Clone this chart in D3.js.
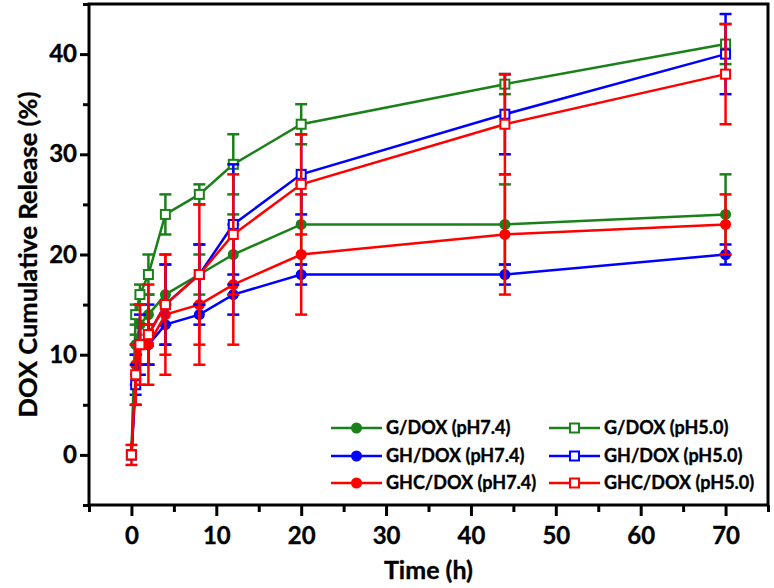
<!DOCTYPE html>
<html><head><meta charset="utf-8">
<script src="https://cdn.jsdelivr.net/npm/d3@7"></script>
<style>body{margin:0;background:#fff}svg{display:block}text{font-family:Lato,"Open Sans",sans-serif;font-weight:700;fill:#000;stroke:#000;stroke-width:0.35px}</style>
</head><body><svg id="c" width="774" height="588"></svg>
<script>
const times = [0, 0.5, 1, 2, 4, 8, 12, 20, 44, 70];
const seriesNames = ["G/DOX (pH7.4)", "GH/DOX (pH7.4)", "GHC/DOX (pH7.4)", "G/DOX (pH5.0)", "GH/DOX (pH5.0)", "GHC/DOX (pH5.0)"];
const g74 = [0, 11, 13, 14, 16, 18, 20, 23, 23, 24];
const g74Err = [0, 1, 2, 2, 3, 2, 4, 4, 4, 4];
const gh74 = [0, 8, 11, 11, 13, 14, 16, 18, 18, 20];
const gh74Err = [0, 2, 2, 2, 2, 1, 2, 1, 1, 1];
const ghc74 = [0, 9, 11, 11, 14, 15, 17, 20, 22, 23];
const ghc74Err = [0, 2, 2, 2, 6, 6, 6, 6, 6, 3];
const g50 = [0, 14, 16, 18, 24, 26, 29, 33, 37, 41];
const g50Err = [0, 1, 1, 2, 2, 1, 3, 2, 1, 2];
const gh50 = [0, 7, 11, 12, 15, 18, 23, 28, 34, 40];
const gh50Err = [0, 2, 3, 3, 4, 3, 6, 4, 4, 4];
const ghc50 = [0, 8, 11, 12, 15, 18, 22, 27, 33, 38];
const ghc50Err = [1, 3, 4, 5, 5, 7, 6, 5, 5, 5];
const xTicks = [0, 10, 20, 30, 40, 50, 60, 70];
const yTicks = [0, 10, 20, 30, 40];

const colors = ["#1a801a", "#0000ff", "#ff0000", "#1a801a", "#0000ff", "#ff0000"];
const shapes = ["circle", "circle", "circle", "square", "square", "square"];
const values = [g74, gh74, ghc74, g50, gh50, ghc50];
const errors = [g74Err, gh74Err, ghc74Err, g50Err, gh50Err, ghc50Err];

const svg = d3.select("#c");
const L = 89, R = 768, T = 4, B = 505;
const x = d3.scaleLinear().domain([-5, 75]).range([L, R]);
const y = d3.scaleLinear().domain([-5, 45]).range([B, T]);

// axes
const xAxis = svg.append("g").attr("transform", `translate(0,${B})`)
  .call(d3.axisBottom(x).tickValues(xTicks).tickSize(11).tickPadding(6).tickFormat(d3.format("d")));
const xMinor = svg.append("g").attr("transform", `translate(0,${B})`)
  .call(d3.axisBottom(x).tickValues(d3.range(-5, 76, 10)).tickSize(7).tickFormat(""));
const yAxis = svg.append("g").attr("transform", `translate(${L},0)`)
  .call(d3.axisLeft(y).tickValues(yTicks).tickSize(9).tickPadding(3).tickFormat(d3.format("d")));
const yMinor = svg.append("g").attr("transform", `translate(${L},0)`)
  .call(d3.axisLeft(y).tickValues(d3.range(-5, 46, 10)).tickSize(6).tickFormat(""));
[xAxis, xMinor, yAxis, yMinor].forEach(a => {
  a.select(".domain").remove();
  a.selectAll("line").attr("stroke", "#000").attr("stroke-width", 3);
  a.selectAll("text").attr("font-size", 24).attr("fill", "#000");
});
xAxis.selectAll("text").attr("dy", "0.9em");

// frame
svg.append("rect").attr("x", L).attr("y", T).attr("width", R - L).attr("height", B - T)
  .attr("fill", "none").attr("stroke", "#000").attr("stroke-width", 3);

const plot = svg.append("g");
const line = d3.line().x((d, i) => x(times[i])).y(d => y(d));

function marker(g, shape, cx, cy, color) {
  if (shape === "circle") {
    g.append("circle").attr("cx", cx).attr("cy", cy).attr("r", 5.5).attr("fill", color);
  } else {
    g.append("rect").attr("x", cx - 4.5).attr("y", cy - 4.5).attr("width", 9).attr("height", 9)
      .attr("fill", "#fff").attr("stroke", color).attr("stroke-width", 2);
  }
}

values.forEach((vals, s) => {
  const c = colors[s];
  const g = plot.append("g");
  g.append("path").datum(vals).attr("d", line).attr("fill", "none").attr("stroke", c).attr("stroke-width", 2.5);
  vals.forEach((v, i) => {
    const e = errors[s][i];
    if (e > 0) {
      const cx = x(times[i]);
      g.append("line").attr("x1", cx).attr("x2", cx).attr("y1", y(v - e)).attr("y2", y(v + e)).attr("stroke", c).attr("stroke-width", 2.5);
      [v - e, v + e].forEach(yy => g.append("line").attr("x1", cx - 6).attr("x2", cx + 6).attr("y1", y(yy)).attr("y2", y(yy)).attr("stroke", c).attr("stroke-width", 2.5));
    }
  });
  vals.forEach((v, i) => marker(g, shapes[s], x(times[i]), y(v), c));
});

// legend
const legX = [331, 549], legY = [428, 456, 483];
seriesNames.forEach((name, s) => {
  const col = s < 3 ? 0 : 1, row = s % 3;
  const lx = legX[col], ly = legY[row];
  const g = svg.append("g");
  g.append("line").attr("x1", lx).attr("x2", lx + 51).attr("y1", ly).attr("y2", ly).attr("stroke", colors[s]).attr("stroke-width", 2.5);
  marker(g, shapes[s], lx + 25.5, ly, colors[s]);
  g.append("text").attr("x", lx + 55).attr("y", ly).attr("dy", "0.35em").attr("font-size", 18).text(name);
});

// axis titles
svg.append("text").attr("x", (L + R) / 2).attr("y", 579).attr("text-anchor", "middle").attr("font-size", 25).text("Time (h)");
svg.append("text").attr("transform", `translate(28,${(T + B) / 2}) rotate(-90)`).attr("text-anchor", "middle")
  .attr("dy", "0.35em").attr("font-size", 25.5).text("DOX Cumulative Release (%)");
</script></body></html>
